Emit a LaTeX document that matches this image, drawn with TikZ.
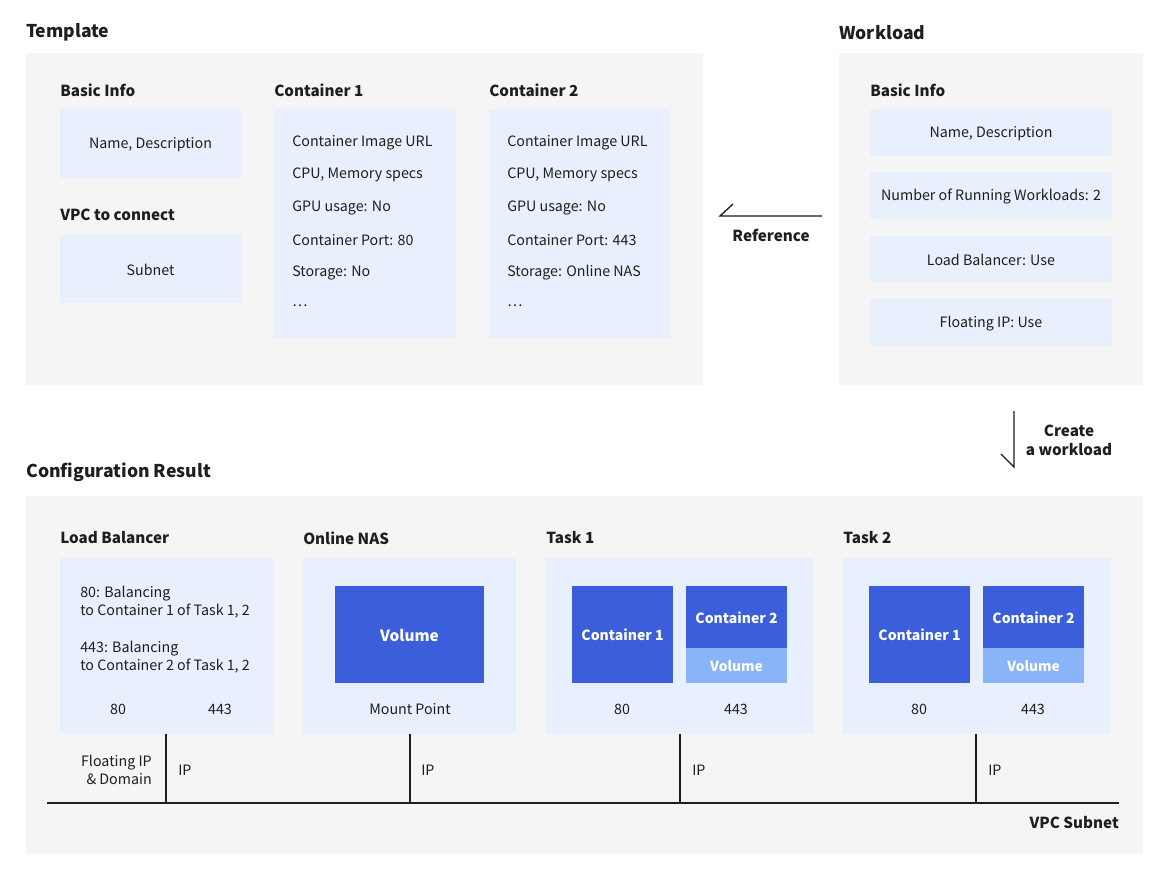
\documentclass[tikz,border=0pt]{standalone}
\usepackage{fontspec}
\setmainfont{Noto Sans CJK KR}
\usetikzlibrary{fit}
\definecolor{panel}{HTML}{F5F5F5}
\definecolor{lblue}{HTML}{E8F0FD}
\definecolor{dblue}{HTML}{3B5FDB}
\definecolor{vblue}{HTML}{8AB4F8}
\definecolor{ink}{HTML}{1E1E1E}
\begin{document}
\begin{tikzpicture}[x=0.75pt,y=-0.75pt,
  panelbox/.style={fill=panel,inner sep=0pt,draw=none},
  box/.style={fill=lblue,inner sep=0pt,draw=none},
  darkbox/.style={fill=dblue,inner sep=0pt,draw=none},
  volbox/.style={fill=vblue,inner sep=0pt,draw=none},
  title/.style={font=\fontsize{13.2}{16}\selectfont\bfseries,text=ink,anchor=west,inner sep=0pt,yshift=-1.1pt},
  head/.style={font=\fontsize{11.4}{14}\selectfont\bfseries,text=ink,anchor=west,inner sep=0pt},
  txt/.style={font=\fontsize{10.7}{13}\selectfont,text=ink,inner sep=0pt,yshift=-0.75pt},
  ltxt/.style={txt,anchor=west},
  wtxt/.style={font=\fontsize{10.5}{13}\selectfont\bfseries,text=white,inner sep=0pt,yshift=-0.5pt},
  line/.style={draw=ink,line width=1.1pt},
  lbl/.style={font=\fontsize{11.4}{14}\selectfont\bfseries,text=ink,inner sep=0pt,align=center,yshift=-0.5pt}
]
\useasboundingbox[fill=white] (0,0) rectangle (1162,872);

% ---------- Template ----------
\node[title] (ttpl) at (26,31) {Template};
\node[panelbox,fit={(26,53)(703,385)}] (ptpl) {};
\node[head] (hbi) at (60,90) {Basic Info};
\node[box,fit={(60,109)(241,178)}] (bbi) {};
\node[txt] (tbi) at (bbi) {Name, Description};
\node[head] (hvpc) at (60,215) {VPC to connect};
\node[box,fit={(60,234)(241,303)}] (bvpc) {};
\node[txt] (tvpc) at (bvpc) {Subnet};

\node[head] (hc1) at (274,90) {Container 1};
\node[box,fit={(274,109)(456,338)}] (bc1) {};
\node[ltxt] (c1a) at (292,142) {Container Image URL};
\node[ltxt] (c1b) at (292,174) {CPU, Memory specs};
\node[ltxt] (c1c) at (292,207) {GPU usage: No};
\node[ltxt] (c1d) at (292,239) {Container Port: 80};
\node[ltxt] (c1e) at (292,272) {Storage: No};
\node[ltxt] (c1f) at (292,305) {\dots};

\node[head] (hc2) at (489,90) {Container 2};
\node[box,fit={(489,109)(670,338)}] (bc2) {};
\node[ltxt] (c2a) at (507,142) {Container Image URL};
\node[ltxt] (c2b) at (507,174) {CPU, Memory specs};
\node[ltxt] (c2c) at (507,207) {GPU usage: No};
\node[ltxt] (c2d) at (507,239) {Container Port: 443};
\node[ltxt] (c2e) at (507,272) {Storage: Online NAS};
\node[ltxt] (c2f) at (507,305) {\dots};

% ---------- Workload ----------
\node[title] (twl) at (839,31) {Workload};
\node[panelbox,fit={(839,53)(1143,385)}] (pwl) {};
\node[head] (hwbi) at (870,90) {Basic Info};
\node[box,fit={(870,109)(1112,156)}] (w1) {};
\node[txt] at (w1) {Name, Description};
\node[box,fit={(870,172)(1112,219)}] (w2) {};
\node[txt] at (w2) {Number of Running Workloads: 2};
\node[box,fit={(870,236)(1112,282)}] (w3) {};
\node[txt] at (w3) {Load Balancer: Use};
\node[box,fit={(870,299)(1112,346)}] (w4) {};
\node[txt] at (w4) {Floating IP: Use};

% Reference arrow
\coordinate (refs) at (822,216);
\coordinate (refe) at (720,216);
\coordinate (refh) at (733,204);
\draw[line,line width=1pt] (refs) -- (refe) -- (refh);
\node[lbl] (lref) at (771,235) {Reference};

% Create arrow
\coordinate (crs) at (1014,411);
\coordinate (cre) at (1014,467);
\coordinate (crh) at (1001,454);
\draw[line,line width=1pt] (crs) -- (cre) -- (crh);
\node[lbl] (lcr) at (1069,440) {Create\\a workload};

% ---------- Configuration Result ----------
\node[title] (tcr) at (26,471) {Configuration Result};
\node[panelbox,fit={(26,496)(1143,854)}] (pcr) {};

% Load Balancer
\node[head] (hlb) at (60,538) {Load Balancer};
\node[box,fit={(60,558)(273,734)}] (blb) {};
\node[ltxt,align=left,anchor=north west,font=\fontsize{10.7}{13.5}\selectfont] (lbt1) at (80,585) {80: Balancing\\to Container 1 of Task 1, 2};
\node[ltxt,align=left,anchor=north west,font=\fontsize{10.7}{13.5}\selectfont] (lbt2) at (80,640) {443: Balancing\\to Container 2 of Task 1, 2};
\node[txt] (lb80) at (118,708) {80};
\node[txt] (lb443) at (220,708) {443};

% Online NAS
\node[head] (hnas) at (303,538) {Online NAS};
\node[box,fit={(303,558)(516,734)}] (bnas) {};
\node[darkbox,fit={(335,586)(484,683)}] (nasvol) {};
\node[wtxt] at (nasvol) {\fontsize{11.5}{14}\selectfont Volume};
\node[txt] (nasmp) at (410,708) {Mount Point};

% Task 1
\node[head] (ht1) at (546,538) {Task 1};
\node[box,fit={(546,558)(813,734)}] (bt1) {};
\node[darkbox,fit={(572,586)(673,683)}] (t1c1) {};
\node[wtxt] at (t1c1) {Container 1};
\node[darkbox,fit={(686,586)(787,648)}] (t1c2) {};
\node[wtxt] at (t1c2) {Container 2};
\node[volbox,fit={(686,648)(787,683)}] (t1v) {};
\node[wtxt] at (t1v) {\fontsize{10.3}{13}\selectfont Volume};
\node[txt] (t180) at (622,708) {80};
\node[txt] (t1443) at (736,708) {443};

% Task 2
\node[head] (ht2) at (843,538) {Task 2};
\node[box,fit={(843,558)(1110,734)}] (bt2) {};
\node[darkbox,fit={(869,586)(970,683)}] (t2c1) {};
\node[wtxt] at (t2c1) {Container 1};
\node[darkbox,fit={(983,586)(1084,648)}] (t2c2) {};
\node[wtxt] at (t2c2) {Container 2};
\node[volbox,fit={(983,648)(1084,683)}] (t2v) {};
\node[wtxt] at (t2v) {\fontsize{10.3}{13}\selectfont Volume};
\node[txt] (t280) at (919,708) {80};
\node[txt] (t2443) at (1033,708) {443};

% Subnet line
\coordinate (sL) at (47,803);
\coordinate (sR) at (1119,803);
\draw[line] (sL) -- (sR);
\coordinate (lbtop) at (166,734);
\coordinate (lbbot) at (166,803);
\coordinate (nastop) at (410,734);
\coordinate (nasbot) at (410,803);
\coordinate (t1top) at (680,734);
\coordinate (t1bot) at (680,803);
\coordinate (t2top) at (976,734);
\coordinate (t2bot) at (976,803);
\draw[line] (lbtop) -- (lbbot);
\draw[line] (nastop) -- (nasbot);
\draw[line] (t1top) -- (t1bot);
\draw[line] (t2top) -- (t2bot);
\node[txt,align=right,anchor=east,font=\fontsize{10.7}{13.5}\selectfont] (fip) at (152,769) {Floating IP\\\& Domain};
\node[ltxt] (ip1) at (178,769) {IP};
\node[ltxt] (ip2) at (421,769) {IP};
\node[ltxt] (ip3) at (692,769) {IP};
\node[ltxt] (ip4) at (988,769) {IP};
\node[lbl,anchor=east] (vpcs) at (1119,822) {VPC Subnet};
\end{tikzpicture}
\end{document}
